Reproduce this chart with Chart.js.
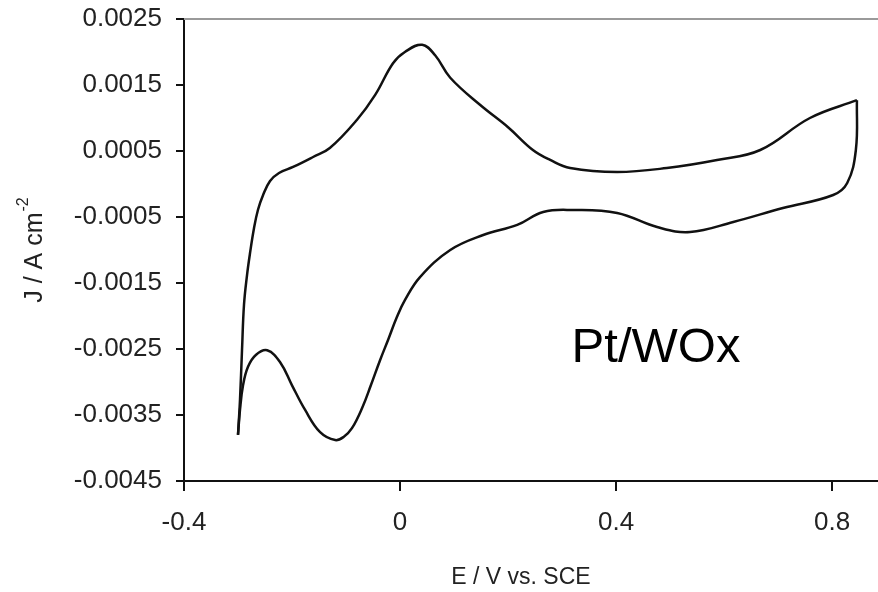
<!DOCTYPE html>
<html>
<head>
<meta charset="utf-8">
<script src="https://cdn.jsdelivr.net/npm/chart.js@4.4.1/dist/chart.umd.min.js"></script>
<style>
html,body{margin:0;padding:0;background:#fff;}
#wrap{width:878px;height:592px;position:relative;}
</style>
</head>
<body>
<div id="wrap"><canvas id="c" width="878" height="592"></canvas></div>
<script>
// Anodic sweep (upper branch), from -0.3 V to the switching potential
const anodicE = [
  -0.300, -0.2963, -0.2926, -0.2889, -0.2833, -0.2778, -0.2704, -0.2630, -0.2537, -0.2407, -0.2241,
  -0.198, -0.161, -0.130, -0.080, -0.046, -0.013, 0.009, 0.041, 0.065, 0.093, 0.148, 0.200,
  0.246, 0.278, 0.315, 0.402, 0.494, 0.587, 0.667, 0.759, 0.846
];
const anodicJ = [
  -0.00380, -0.00327, -0.00252, -0.00183, -0.00138, -0.00105, -0.00067, -0.00039, -0.00017, 0.000045, 0.000167,
  0.000258, 0.000409, 0.000545, 0.00097, 0.00135, 0.00183, 0.00200, 0.00211, 0.00195, 0.00161, 0.00120, 0.00086,
  0.000515, 0.000364, 0.000242, 0.000182, 0.000242, 0.000364, 0.000515, 0.00100, 0.00127
];
// Cathodic sweep (lower branch), from the switching potential back to -0.3 V
const cathodicE = [
  0.846, 0.844, 0.828, 0.802, 0.709, 0.617, 0.537, 0.476, 0.402, 0.320, 0.265, 0.217, 0.154,
  0.093, 0.037, 0.009, -0.006, -0.022, -0.037, -0.054, -0.070, -0.089, -0.104, -0.120,
  -0.148, -0.176, -0.200, -0.222, -0.246, -0.267, -0.2815, -0.2907, -0.2963, -0.300
];
const cathodicJ = [
  0.00127, 0.000515, 0.000015, -0.000167, -0.000364, -0.000576, -0.000727, -0.000652, -0.000439, -0.000394, -0.000424, -0.00062, -0.000773,
  -0.00100, -0.00141, -0.00176, -0.00202, -0.00236, -0.00267, -0.00305, -0.00339, -0.00370, -0.00383, -0.00388,
  -0.00376, -0.00342, -0.00305, -0.00270, -0.00252, -0.00259, -0.00277, -0.00305, -0.00342, -0.00380
];
const xTicks = [-0.4, 0, 0.4, 0.8];
const yTicks = [-0.0045, -0.0035, -0.0025, -0.0015, -0.0005, 0.0005, 0.0015, 0.0025];
const xTitle = 'E / V vs. SCE';
const yTitleMain = 'J / A cm';
const yTitleSup = '-2';
const annotation = 'Pt/WOx';

const toPts = (E, J) => E.map((v, i) => ({x: v, y: J[i]}));
const FONT = '"Liberation Sans", Arial, Helvetica, sans-serif';

const decor = {
  id: 'decor',
  afterDraw(chart) {
    const ctx = chart.ctx, a = chart.chartArea;
    ctx.save();
    // top frame line
    ctx.strokeStyle = '#9a9a9a';
    ctx.lineWidth = 2;
    ctx.beginPath();
    ctx.moveTo(a.left, a.top);
    ctx.lineTo(a.right, a.top);
    ctx.stroke();
    // x title
    ctx.fillStyle = '#222';
    ctx.font = '23px ' + FONT;
    ctx.textAlign = 'center';
    ctx.textBaseline = 'middle';
    ctx.fillText(xTitle, 521, 578);
    // y title (rotated) with superscript
    ctx.translate(33, 250);
    ctx.rotate(-Math.PI / 2);
    ctx.font = '25px ' + FONT;
    const w1 = ctx.measureText(yTitleMain).width;
    ctx.font = '16px ' + FONT;
    const w2 = ctx.measureText(yTitleSup).width;
    const tot = w1 + w2 + 1;
    ctx.textAlign = 'left';
    ctx.textBaseline = 'alphabetic';
    ctx.font = '25px ' + FONT;
    ctx.fillText(yTitleMain, -tot / 2, 9);
    ctx.font = '16px ' + FONT;
    ctx.fillText(yTitleSup, -tot / 2 + w1 + 1, -5);
    ctx.restore();
    // annotation
    ctx.save();
    ctx.fillStyle = '#000';
    ctx.font = '49px ' + FONT;
    ctx.textAlign = 'center';
    ctx.textBaseline = 'alphabetic';
    ctx.fillText(annotation, 656, 362);
    ctx.restore();
  }
};

const lineStyle = {
  showLine: true,
  borderColor: '#111',
  borderWidth: 2.5,
  pointRadius: 0,
  tension: 0.4,
  fill: false
};

new Chart(document.getElementById('c'), {
  type: 'scatter',
  data: {
    datasets: [
      Object.assign({data: toPts(anodicE, anodicJ)}, lineStyle),
      Object.assign({data: toPts(cathodicE, cathodicJ)}, lineStyle)
    ]
  },
  options: {
    responsive: false,
    animation: false,
    devicePixelRatio: 1,
    layout: {padding: {top: 19, right: 0, left: 0, bottom: 0}},
    plugins: {legend: {display: false}, tooltip: {enabled: false}},
    scales: {
      x: {
        type: 'linear',
        min: -0.4,
        max: 0.885,
        afterBuildTicks: s => { s.ticks = xTicks.map(v => ({value: v})); },
        afterFit: s => { s.height = 111; s.paddingLeft = 0; s.paddingRight = 0; },
        border: {display: true, color: '#111', width: 2},
        grid: {drawOnChartArea: false, drawTicks: true, tickLength: 10, color: '#111', lineWidth: 2},
        ticks: {
          color: '#222',
          font: {family: FONT, size: 26},
          padding: 16,
          maxRotation: 0,
          autoSkip: false,
          callback: v => (v === 0 ? '0' : String(v))
        }
      },
      y: {
        type: 'linear',
        min: -0.0045,
        max: 0.0025,
        afterBuildTicks: s => { s.ticks = yTicks.map(v => ({value: v})); },
        afterFit: s => { s.width = 184; s.paddingTop = 0; s.paddingBottom = 0; },
        border: {display: true, color: '#111', width: 2},
        grid: {drawOnChartArea: false, drawTicks: true, tickLength: 8, color: '#111', lineWidth: 2},
        ticks: {
          color: '#222',
          font: {family: FONT, size: 26},
          padding: 14,
          autoSkip: false,
          callback: v => v.toFixed(4)
        }
      }
    }
  },
  plugins: [decor]
});
</script>
</body>
</html>
